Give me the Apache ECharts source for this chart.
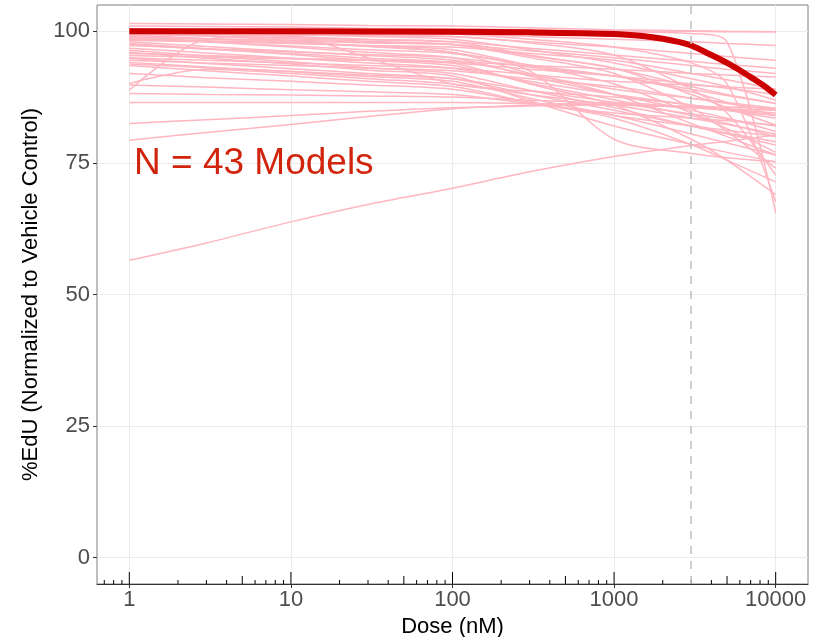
<!DOCTYPE html>
<html>
<head>
<meta charset="UTF-8">
<title>%EdU dose response</title>
<style>
body{margin:0;background:#fff;}
#main{width:813px;height:637px;}
</style>
</head>
<body>
<div id="main"></div>
<script src="https://cdn.jsdelivr.net/npm/echarts@6/dist/echarts.min.js"></script>
<script>
var doses = [1, 3, 10, 30, 100, 300, 1000, 3000, 5000, 10000];

// one row per model (43), %EdU at each dose
var models = [
  [101.5,101.4,101.3,101.1,101.0,100.7,100.3,100.1,100.0,99.9],
  [101.0,100.9,100.8,100.6,100.5,100.3,100.1,100.0,99.9,99.9],
  [100.3,100.3,100.2,100.2,100.1,100.0,99.9,99.6,98.0,65.5],
  [100.5,100.3,100.0,99.8,99.5,98.5,97.0,94.0,90.0,67.6],
  [99.8,99.7,99.2,95.0,90.0,88.6,87.5,86.0,85.2,84.0],
  [98.5,98.2,97.8,97.2,96.0,92.5,79.5,76.8,76.0,75.2],
  [100.2,100.0,99.8,99.4,99.0,97.8,95.5,89.0,84.5,72.7],
  [99.9,99.7,99.4,99.0,98.5,96.5,94.0,91.0,89.5,86.9],
  [100.0,99.9,99.8,99.6,99.5,99.0,98.5,98.0,97.7,97.3],
  [99.6,99.1,98.6,98.1,97.5,95.0,92.0,85.5,81.0,74.0],
  [99.3,98.6,97.9,97.2,96.5,93.5,90.0,84.5,81.5,77.0],
  [99.0,98.0,97.0,96.0,95.0,91.5,88.0,85.0,83.5,81.0],
  [98.7,98.0,97.2,96.5,95.8,93.6,91.5,88.5,86.5,84.0],
  [98.3,98.0,97.7,97.3,97.0,95.8,94.5,92.0,90.8,89.0],
  [98.0,97.1,96.2,95.4,94.5,91.8,89.0,87.3,86.5,85.4],
  [97.7,96.7,95.6,94.5,93.5,90.2,87.0,84.0,82.5,80.0],
  [97.3,96.7,96.1,95.6,95.0,93.2,91.5,89.0,87.8,86.3],
  [96.8,95.9,94.9,94.0,93.0,90.5,88.0,86.0,85.0,83.5],
  [96.4,95.3,94.2,93.1,92.0,88.8,85.5,82.0,80.5,78.4],
  [95.8,95.4,94.9,94.5,94.0,92.8,91.5,90.0,89.2,88.0],
  [95.4,95.1,94.8,94.5,94.2,93.5,92.8,92.0,91.7,91.3],
  [94.9,93.9,92.9,92.0,91.0,88.0,85.0,82.0,80.7,79.0],
  [94.5,94.0,93.5,93.0,92.5,91.0,89.5,87.3,86.3,85.0],
  [94.1,93.2,92.3,91.4,90.5,87.3,84.0,80.5,78.8,76.5],
  [93.5,92.5,91.5,90.5,89.5,86.5,83.5,78.5,75.5,71.4],
  [88.8,98.5,99.3,99.2,99.0,98.0,97.0,95.8,95.2,94.5],
  [90.1,92.8,92.0,91.0,90.0,88.0,86.0,83.5,82.3,80.5],
  [89.8,89.4,88.9,88.5,88.0,86.3,84.5,83.5,83.0,82.2],
  [88.2,88.0,87.9,87.7,87.5,86.9,86.3,85.5,85.1,84.5],
  [86.5,86.5,86.5,86.5,86.5,86.3,86.0,85.6,85.3,85.0],
  [82.5,83.2,84.0,84.8,85.5,85.8,86.0,85.8,85.6,85.4],
  [79.3,80.8,82.3,83.8,85.3,86.0,86.5,85.5,85.0,84.0],
  [56.5,59.8,63.8,67.1,70.2,73.3,76.2,78.3,79.1,80.3],
  [100.1,99.2,98.2,97.1,96.0,92.0,88.0,82.5,80.0,76.5],
  [99.5,99.1,98.8,98.4,98.0,96.8,95.5,94.3,93.7,93.0],
  [97.5,96.6,95.8,94.9,94.0,90.0,86.0,79.5,75.5,69.0],
  [96.0,94.9,93.8,92.6,91.5,86.8,82.0,78.5,77.0,75.2],
  [95.0,94.5,94.0,93.5,93.0,91.8,90.5,89.8,89.4,89.0],
  [93.8,93.1,92.4,91.7,91.0,88.8,86.5,84.3,83.3,82.0],
  [92.0,91.2,90.5,89.8,89.0,86.5,84.0,82.0,81.2,80.0],
  [99.0,98.6,98.3,97.9,97.5,96.3,95.0,93.5,92.8,92.0],
  [100.0,99.5,99.0,98.5,98.0,95.5,93.0,89.5,88.0,86.3],
  [98.8,98.5,98.2,97.8,97.5,95.3,93.0,88.0,85.5,82.2]
];

// overall fitted curve (thick red), read at its own doses
var meanDoses = [1, 10, 100, 300, 1000, 1500, 2000, 2500, 3000, 4000, 5000, 6000, 7000, 8500, 10000];
var meanCurve = [100.0, 100.0, 99.9, 99.8, 99.5, 99.1, 98.6, 98.0, 97.3, 95.5, 94.0, 92.6, 91.3, 89.6, 87.9];

var xTicks = [1, 10, 100, 1000, 10000];
var yTicks = [0, 25, 50, 75, 100];
var refDose = 3000;
var logMantissas = [1, 2, 3, 4, 5, 6, 7, 8, 9];
var annotation = 'N = 43 Models';

var logTicks = [0.7, 0.8, 0.9];
for (var p = 0; p <= 4; p++) {
  logMantissas.forEach(function (m) {
    var v = m * Math.pow(10, p);
    if (v <= 10000) logTicks.push(v);
  });
}

var X_MIN = Math.pow(10, -0.2), X_MAX = Math.pow(10, 4.2);
var Y_MIN = -5, Y_MAX = 105;

function pairs(xs, vals) {
  return xs.map(function (d, i) { return [d, vals[i]]; });
}

var series = [];
models.forEach(function (m, i) {
  series.push({
    name: 'model' + (i + 1),
    type: 'line',
    data: pairs(doses, m),
    smooth: 0.3,
    showSymbol: false,
    silent: true,
    z: 2,
    lineStyle: { color: '#FFB6C1', width: 1.5 }
  });
});

series.push({
  name: 'all',
  type: 'line',
  data: pairs(meanDoses, meanCurve),
  smooth: 0.3,
  showSymbol: false,
  silent: true,
  z: 3,
  lineStyle: { color: '#CC0000', width: 6, cap: 'butt' },
  markLine: {
    silent: true,
    symbol: 'none',
    label: { show: false },
    z: 5,
    lineStyle: { color: '#BEBEBE', width: 1.5, type: [8, 7] },
    data: [{ xAxis: refDose }]
  }
});

// log ticks drawn inside the panel along the bottom
series.push({
  type: 'custom',
  silent: true,
  z: 4,
  data: logTicks.map(function (v) { return [v]; }),
  renderItem: function (params, api) {
    var v = api.value(0);
    var pt = api.coord([v, Y_MIN]);
    var lg = Math.log10(v);
    var lead = v / Math.pow(10, Math.floor(lg + 1e-9));
    var len = Math.abs(lg - Math.round(lg)) < 1e-9 ? 12 : (Math.abs(lead - 5) < 1e-9 ? 8 : 4);
    return {
      type: 'line',
      shape: { x1: pt[0], y1: pt[1], x2: pt[0], y2: pt[1] - len },
      style: { stroke: '#000', lineWidth: 1 }
    };
  }
});

var chart = echarts.init(document.getElementById('main'), null, { renderer: 'canvas' });
chart.setOption({
  animation: false,
  backgroundColor: '#fff',
  textStyle: { fontFamily: 'Liberation Sans, Arial, sans-serif' },
  grid: {
    left: 97, right: 5, top: 5, bottom: 53,
    outerBoundsMode: 'none',
    containLabel: false,
    show: true, borderColor: '#7F7F7F', borderWidth: 1, backgroundColor: 'transparent'
  },
  xAxis: {
    type: 'log',
    logBase: 10,
    min: X_MIN,
    max: X_MAX,
    name: 'Dose (nM)',
    nameLocation: 'middle',
    nameGap: 25,
    nameTextStyle: { color: '#000', fontSize: 22 },
    axisLine: { show: true, onZero: false, lineStyle: { color: '#333', width: 1 } },
    axisTick: { show: true, length: 4, customValues: xTicks, lineStyle: { color: '#333' } },
    axisLabel: { customValues: xTicks, color: '#4D4D4D', fontSize: 22, margin: 5,
      formatter: function (v) { return String(Math.round(v)); } },
    splitLine: { show: true, lineStyle: { color: '#EBEBEB', width: 1 } },
    minorSplitLine: { show: false }
  },
  yAxis: {
    type: 'value',
    min: Y_MIN,
    max: Y_MAX,
    name: '%EdU (Normalized to Vehicle Control)',
    nameLocation: 'middle',
    nameGap: 46,
    nameRotate: 90,
    nameTextStyle: { color: '#000', fontSize: 22 },
    axisLine: { show: false },
    axisTick: { show: true, length: 4, customValues: yTicks, lineStyle: { color: '#333' } },
    axisLabel: { customValues: yTicks, color: '#4D4D4D', fontSize: 22, margin: 7 },
    splitLine: { show: true, lineStyle: { color: '#EBEBEB', width: 1 } }
  },
  graphic: [{
    type: 'text',
    left: 134,
    top: 145,
    z: 100,
    silent: true,
    style: { text: annotation, fill: '#D0240C', fontSize: 37, fontFamily: 'Liberation Sans, Arial, sans-serif' }
  }],
  series: series
});
</script>
</body>
</html>
